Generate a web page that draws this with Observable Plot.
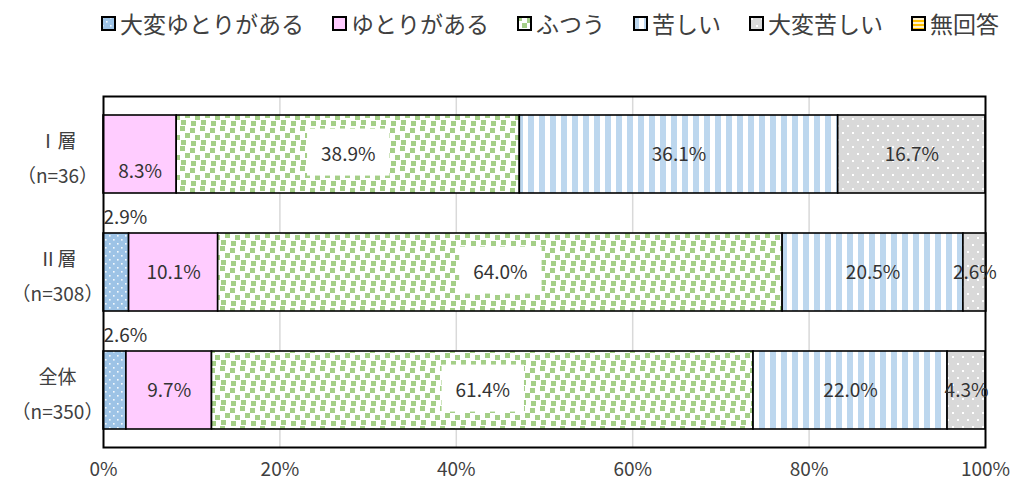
<!DOCTYPE html>
<html><head><meta charset="utf-8">
<script src="https://cdn.jsdelivr.net/npm/d3@7"></script>
<script src="https://cdn.jsdelivr.net/npm/@observablehq/plot@0.6"></script>
<style>
body{margin:0;background:#fff;font-family:"Noto Sans CJK JP","Noto Sans",sans-serif;color:#404040}
#legend{height:46px;display:flex;align-items:center;padding-left:101px;font-size:23px;white-space:nowrap;line-height:1}
.item{display:flex;align-items:center;margin-right:28px}
.item svg{margin-right:4px;flex:none}
</style></head><body>
<svg width="0" height="0" style="position:absolute"><defs>
<pattern id="p-vlight" width="8" height="8" patternUnits="userSpaceOnUse">
 <rect width="8" height="8" fill="#9DC3E6"/>
 <rect x="1" y="1" width="1.6" height="1.6" fill="#fff" opacity="0.9"/>
 <rect x="5" y="5" width="1.6" height="1.6" fill="#fff" opacity="0.9"/>
</pattern>
<pattern id="p-pink" width="8" height="8" patternUnits="userSpaceOnUse">
 <rect width="8" height="8" fill="#FFCCFF"/>
</pattern>
<pattern id="p-green" width="20" height="20" patternUnits="userSpaceOnUse">
 <rect width="20" height="20" fill="#fff"/>
 <g fill="#A5CF88">
  <rect x="0" y="0" width="5" height="5"/>
  <rect x="10" y="2" width="5" height="5"/>
  <rect x="5" y="7" width="5" height="5"/>
  <rect x="15" y="9" width="5" height="5"/>
  <rect x="1" y="14" width="5" height="5"/>
  <rect x="11" y="15" width="5" height="5"/>
 </g>
</pattern>
<pattern id="p-stripe" width="11" height="11" patternUnits="userSpaceOnUse">
 <rect width="11" height="11" fill="#fff"/>
 <rect x="0" width="6" height="11" fill="#BDD7EE"/>
</pattern>
<pattern id="p-gray" width="10" height="14" patternUnits="userSpaceOnUse">
 <rect width="10" height="14" fill="#D9D9D9"/>
 <rect x="2" y="2" width="2" height="2" fill="#fff"/>
 <rect x="7" y="9" width="2" height="2" fill="#fff"/>
</pattern>
<pattern id="p-yellow" width="4" height="4" patternUnits="userSpaceOnUse">
 <rect width="4" height="4" fill="#FFC000"/>
 <rect y="2" width="4" height="2" fill="#FFF2CC"/>
</pattern>
</defs></svg>
<div id="legend"></div>
<div id="chart"></div>
<script>
const groups = ["Ⅰ層", "Ⅱ層", "全体"];
const groupNs = ["（n=36）", "（n=308）", "（n=350）"];
const categories = ["大変ゆとりがある", "ゆとりがある", "ふつう", "苦しい", "大変苦しい", "無回答"];
const valuesI = [0, 8.3, 38.9, 36.1, 16.7, 0];
const valuesII = [2.9, 10.1, 64.0, 20.5, 2.6, 0];
const valuesAll = [2.6, 9.7, 61.4, 22.0, 4.3, 0];
const xTicks = [0, 20, 40, 60, 80, 100];
const patternIds = ["p-vlight", "p-pink", "p-green", "p-stripe", "p-gray", "p-yellow"];

const seriesByGroup = [valuesI, valuesII, valuesAll];
const rows = [];
groups.forEach((g, gi) => categories.forEach((c, ci) => {
  rows.push({group: g, category: c, value: seriesByGroup[gi][ci]});
}));
const data = rows.filter(d => d.value > 0);
const fmt = d => d.value.toFixed(1) + "%";
const fills = patternIds.map(id => `url(#${id})`);

// legend
const legend = document.getElementById("legend");
categories.forEach((c, i) => {
  const item = document.createElement("div");
  item.className = "item";
  item.innerHTML = `<svg width="15" height="15"><rect x="1" y="1" width="13" height="13" fill="${fills[i]}" stroke="#000" stroke-width="2"/></svg><span>${c}</span>`;
  legend.appendChild(item);
});

const font = '"Noto Sans CJK JP","Noto Sans",sans-serif';
const stack = (opts) => Plot.stackX({x: "value", y: "group", z: "category", ...opts});
const labelIf = cond => d => cond(d) ? fmt(d) : null;

const chart = Plot.plot({
  width: 1012, height: 437,
  marginTop: 50, marginBottom: 36, marginLeft: 103, marginRight: 27,
  style: {fontFamily: font, fontSize: "19px", color: "#404040", background: "white"},
  x: {domain: [0, 100], label: null},
  y: {domain: groups, paddingInner: 0.339, paddingOuter: 0.153, label: null},
  color: {domain: categories, range: fills},
  marks: [
    Plot.gridX(xTicks.slice(1, -1), {stroke: "#D9D9D9", strokeOpacity: 1, strokeWidth: 1.5}),
    Plot.barX(data, stack({fill: "category", stroke: "#000", strokeWidth: 1.6})),
    Plot.frame({stroke: "#000", strokeWidth: 2}),
    Plot.axisX({ticks: xTicks, tickFormat: d => d + "%", tickSize: 0, tickPadding: 15, fontSize: 19, label: null}),
    Plot.axisY({tickSize: 0, tickPadding: 46, textAnchor: "middle", lineHeight: 1.8, fontSize: 19, label: null,
      tickFormat: d => d + "\n" + groupNs[groups.indexOf(d)]}),
    // green labels with white boxes
    Plot.text(data, stack({fill: "#333", fontSize: 19, ariaDescription: "boxed-labels",
      text: labelIf(d => d.category === "ふつう")})),
    // plain centered labels
    Plot.text(data, stack({fill: "#333", fontSize: 19,
      text: labelIf(d => ["苦しい", "大変苦しい"].includes(d.category) || (d.category === "ゆとりがある" && d.group !== "Ⅰ層"))})),
    Plot.text(data, stack({fill: "#333", fontSize: 19, dy: 17,
      text: labelIf(d => d.category === "ゆとりがある" && d.group === "Ⅰ層")})),
    // small segments labelled above the bar
    Plot.text(data.filter(d => d.category === "大変ゆとりがある"), {x: 0, y: "group", text: fmt, fill: "#333",
      fontSize: 19, textAnchor: "start", dy: -55})
  ]
});
document.getElementById("chart").appendChild(chart);

// white boxes behind boxed labels
const boxedTexts = Array.from(chart.querySelectorAll('g[aria-description="boxed-labels"] text'))
  .filter(t => t.textContent && t.textContent.includes("%"));
boxedTexts.forEach(function(t) {
  const b = t.getBBox();
  const r = document.createElementNS("http://www.w3.org/2000/svg", "rect");
  r.setAttribute("x", b.x - 14);
  r.setAttribute("y", b.y - 10);
  r.setAttribute("width", b.width + 28);
  r.setAttribute("height", b.height + 20);
  r.setAttribute("fill", "#fff");
  const tr = t.getAttribute("transform");
  if (tr) r.setAttribute("transform", tr);
  t.parentNode.insertBefore(r, t);
});
</script>
</body></html>
